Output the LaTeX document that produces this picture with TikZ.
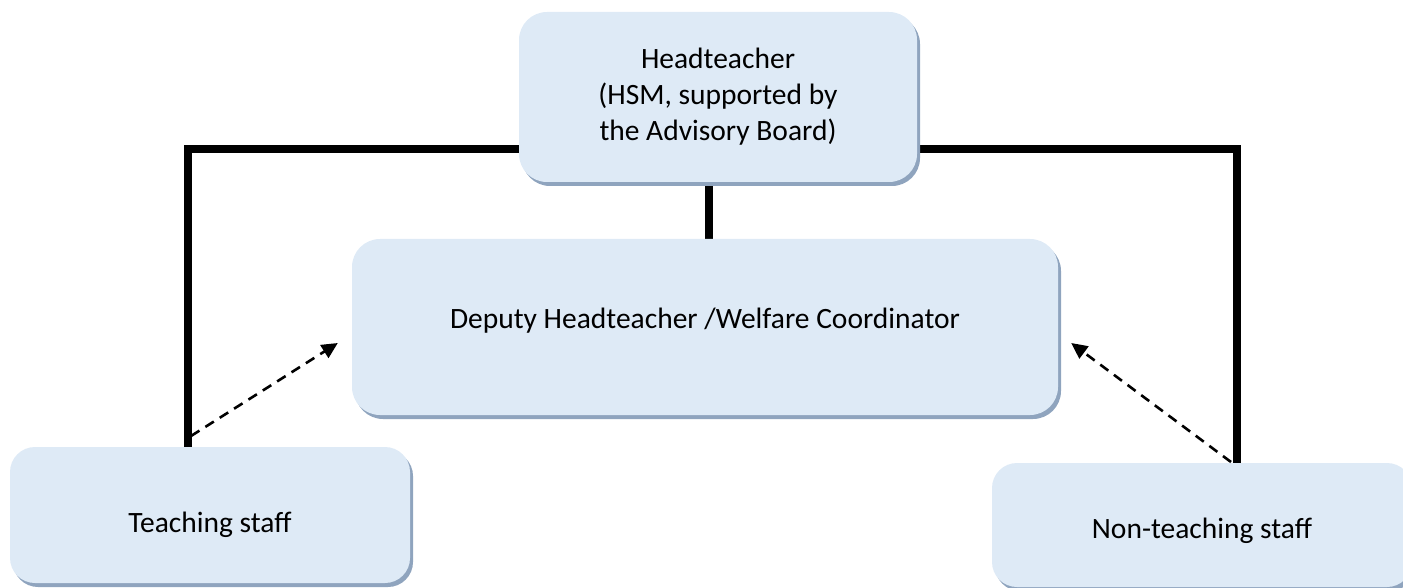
\documentclass[tikz,border=0pt]{standalone}
\usepackage{fontspec}
\setmainfont{Carlito}
\usetikzlibrary{shadows,arrows.meta,backgrounds,calc}
\definecolor{boxfill}{RGB}{222,234,246}
\definecolor{boxshadow}{RGB}{143,164,190}
\tikzset{
  orgfont/.style={font=\fontsize{29.5}{36}\selectfont},
  orgbox/.style={fill=boxfill, rounded corners=28pt, draw=none, inner sep=0pt,
    align=center, orgfont,
    drop shadow={shadow xshift=3pt, shadow yshift=-4pt, fill=boxshadow, opacity=1}},
  conn/.style={line width=8pt, line cap=butt, draw=black},
  dasharrow/.style={line width=2.6pt, dash pattern=on 10pt off 7pt,
    -{Triangle[length=16pt,width=15pt]}},
}
\begin{document}
\begin{tikzpicture}[x=1pt,y=-1pt]
\useasboundingbox (0,0) rectangle (1403,588);
\clip (0,0) rectangle (1403,588);
\node[orgbox, minimum width=398pt, minimum height=170pt] (head) at (718,97)
  {Headteacher\\(HSM, supported by\\the Advisory Board)};
\node[orgbox, minimum width=706pt, minimum height=176pt,
  label={[orgfont, yshift=6pt]center:Deputy Headteacher /Welfare Coordinator}] (dep) at (705,327) {};
\node[orgbox, rounded corners=25pt, minimum width=400pt, minimum height=136pt,
  label={[orgfont, yshift=-10pt]center:Teaching staff}] (teach) at (210,515) {};
\node[orgbox, rounded corners=25pt, minimum width=420pt, minimum height=124pt,
  label={[orgfont, yshift=-6pt]center:Non-teaching staff}] (non) at (1202,525) {};
\coordinate (lt) at (188,149);
\coordinate (rt) at (1237,149);
\coordinate (ct) at (709,0);
\coordinate (s1) at (191,436);
\coordinate (s2) at (1231,462);
\begin{scope}[on background layer]
\draw[conn] (teach.north -| lt) -- (lt) -- (lt -| head.west);
\draw[conn] (rt -| head.east) -- (rt) -- (rt |- non.north);
\draw[conn] (head.south -| ct) -- (dep.north -| ct);
\end{scope}
\draw[dasharrow] (s1) -- ($(dep.west)+(-14,16)$);
\draw[dasharrow] (s2) -- ($(dep.east)+(13,16)$);
\end{tikzpicture}
\end{document}
